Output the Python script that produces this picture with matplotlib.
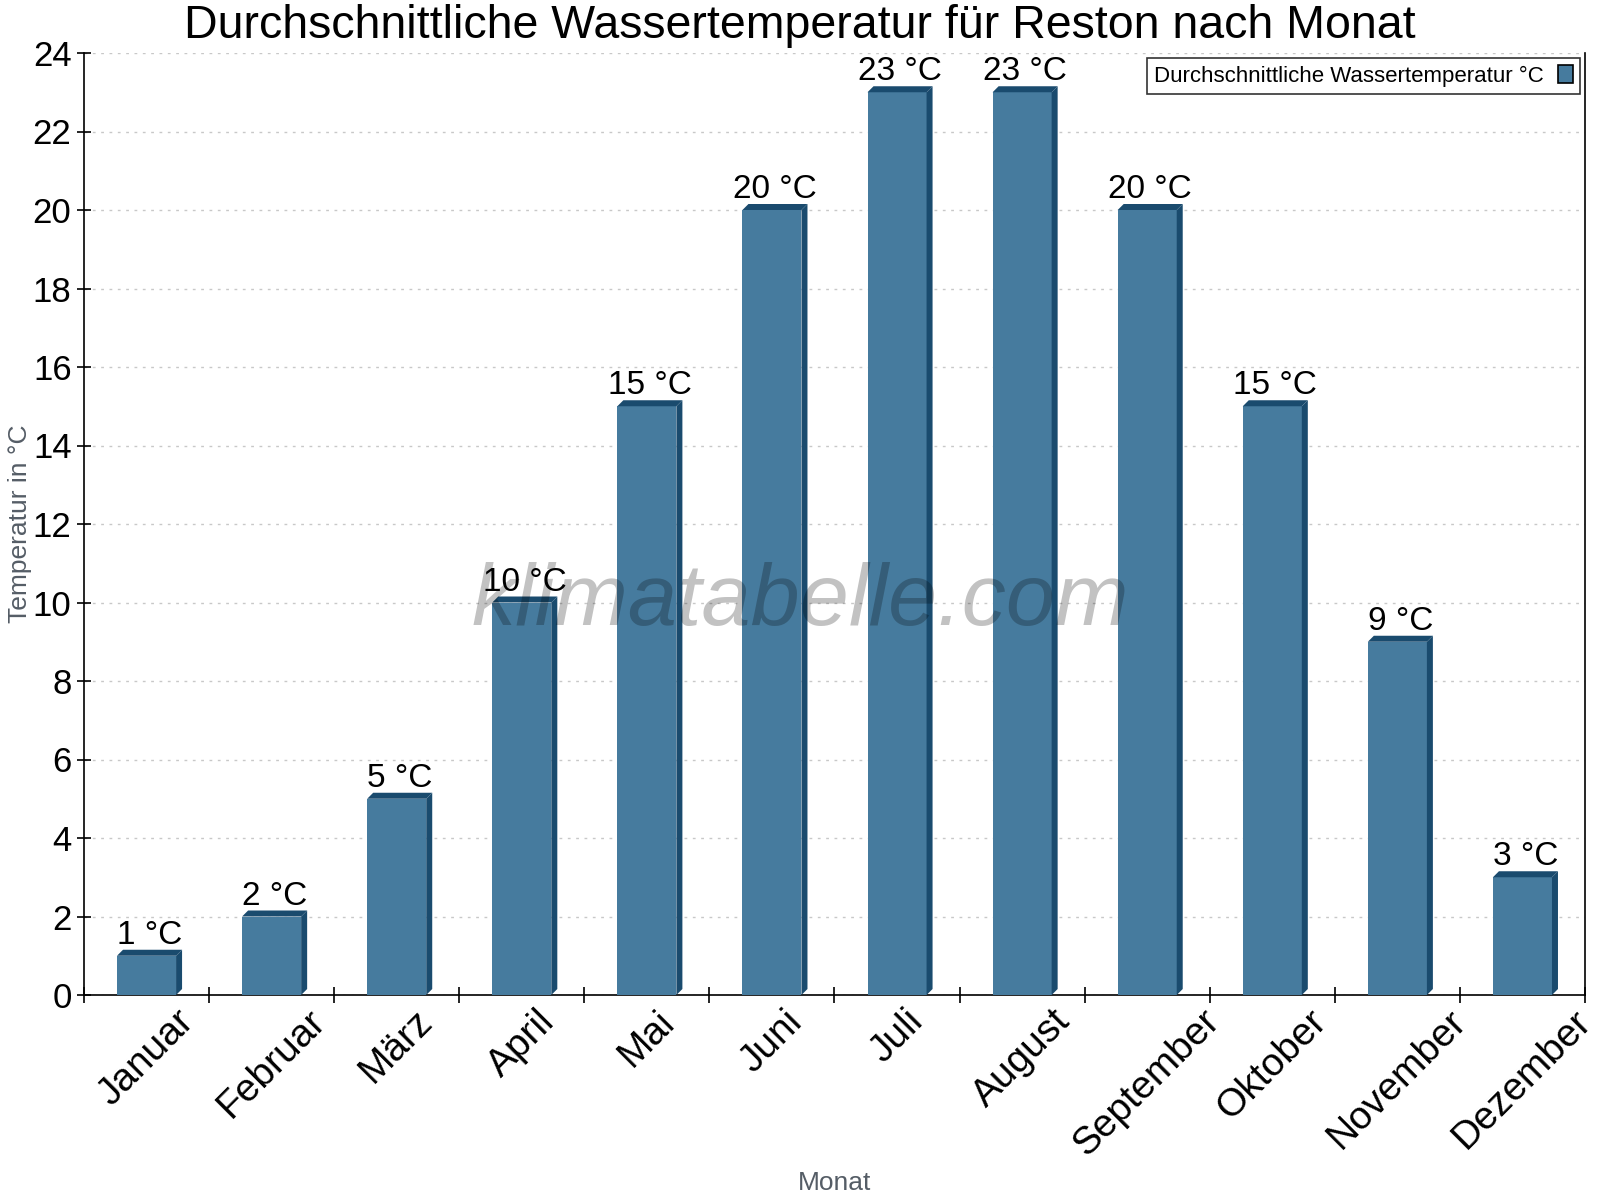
import matplotlib
matplotlib.use("Agg")
import matplotlib.pyplot as plt
from matplotlib.patches import Polygon, Patch

plt.rcParams['font.family'] = ['Liberation Sans', 'DejaVu Sans']

months = ["Januar", "Februar", "März", "April", "Mai", "Juni", "Juli",
          "August", "September", "Oktober", "November", "Dezember"]
temps = [1, 2, 5, 10, 15, 20, 23, 23, 20, 15, 9, 3]
yticks = list(range(0, 25, 2))
title = "Durchschnittliche Wassertemperatur für Reston nach Monat"
series_name = "Durchschnittliche Wassertemperatur °C"

front = "#467b9e"
dark = "#1a4b6e"

W, H = 1600, 1200
fig = plt.figure(figsize=(16, 12), dpi=100)
L, R, T, B = 84, 1585, 53, 995
ax = fig.add_axes([L / W, 1 - B / H, (R - L) / W, (B - T) / H])

n = len(months)
ax.set_xlim(-0.5, n - 0.5)
ax.set_ylim(0, 24)
bw = 0.472
xs = list(range(n))
ax.bar(xs, temps, width=bw, color=front, zorder=3, linewidth=0)

# 3D depth in data units (6 px)
px_x = (R - L) / n
px_y = (B - T) / 24
dx = 6 / px_x
dy = 6 / px_y
for x, h in zip(xs, temps):
    x0, x1 = x - bw / 2, x + bw / 2
    side = Polygon([(x1, 0), (x1 + dx, dy), (x1 + dx, h + dy), (x1, h)],
                   closed=True, facecolor=dark, edgecolor='none', zorder=3)
    top = Polygon([(x0, h), (x0 + dx, h + dy), (x1 + dx, h + dy), (x1, h)],
                  closed=True, facecolor=dark, edgecolor='none', zorder=3)
    ax.add_patch(side)
    ax.add_patch(top)
    ax.text(x + dx / 2, h + dy - 0.03, f"{h} °C", ha='center', va='bottom',
            fontsize=24, color='black', zorder=5)

ax.set_yticks(yticks)
ax.set_yticklabels([str(v) for v in yticks], fontsize=25)
ax.set_xticks([i + 0.5 for i in range(-1, n)], minor=False)
ax.set_xticklabels([])
ax.set_xticks(xs, minor=True)
ax.set_xticklabels(months, minor=True, rotation=45, ha='center', va='top',
                   fontsize=28)
ax.tick_params(axis='x', which='minor', length=0, pad=6)
ax.tick_params(axis='x', which='major', direction='inout', length=12, width=1.2)
ax.tick_params(axis='y', direction='inout', length=10, width=1.2, pad=4)

ax.grid(axis='y', linestyle=(0, (2, 4)), color='#c8c8c8', linewidth=1, zorder=0)
ax.set_axisbelow(True)
for s in ['left', 'bottom', 'right']:
    ax.spines[s].set_color('black')
    ax.spines[s].set_linewidth(1.2)
ax.spines['top'].set_visible(False)

fig.text(0.5, 1 - 38 / H, title, ha='center', va='baseline', fontsize=33.5)
fig.text(835 / W, 1 - 1183 / H, "Monat", ha='center', va='center',
         fontsize=19, color='#555d66')
fig.text(20 / W, 1 - 524 / H, "Temperatur in °C", ha='center', va='center',
         rotation=90, fontsize=19, color='#555d66')

fig.text(800 / W, 1 - 602 / H, "klimatabelle.com", ha='center', va='center',
         fontsize=63.5, style='italic', color='black', alpha=0.24, zorder=10)

handle = Patch(facecolor=front, edgecolor='black', linewidth=1.2)
leg = fig.legend([handle], [series_name], loc='upper right',
                 bbox_to_anchor=(1580 / W, 1 - 58 / H), bbox_transform=fig.transFigure,
                 borderaxespad=0, markerfirst=False, fontsize=16, fancybox=False,
                 frameon=True, edgecolor='black', handlelength=0.65, handleheight=0.85,
                 handletextpad=0.65, borderpad=0.33)
leg.get_frame().set_linewidth(1.2)

fig.savefig("out.png", dpi=100)
